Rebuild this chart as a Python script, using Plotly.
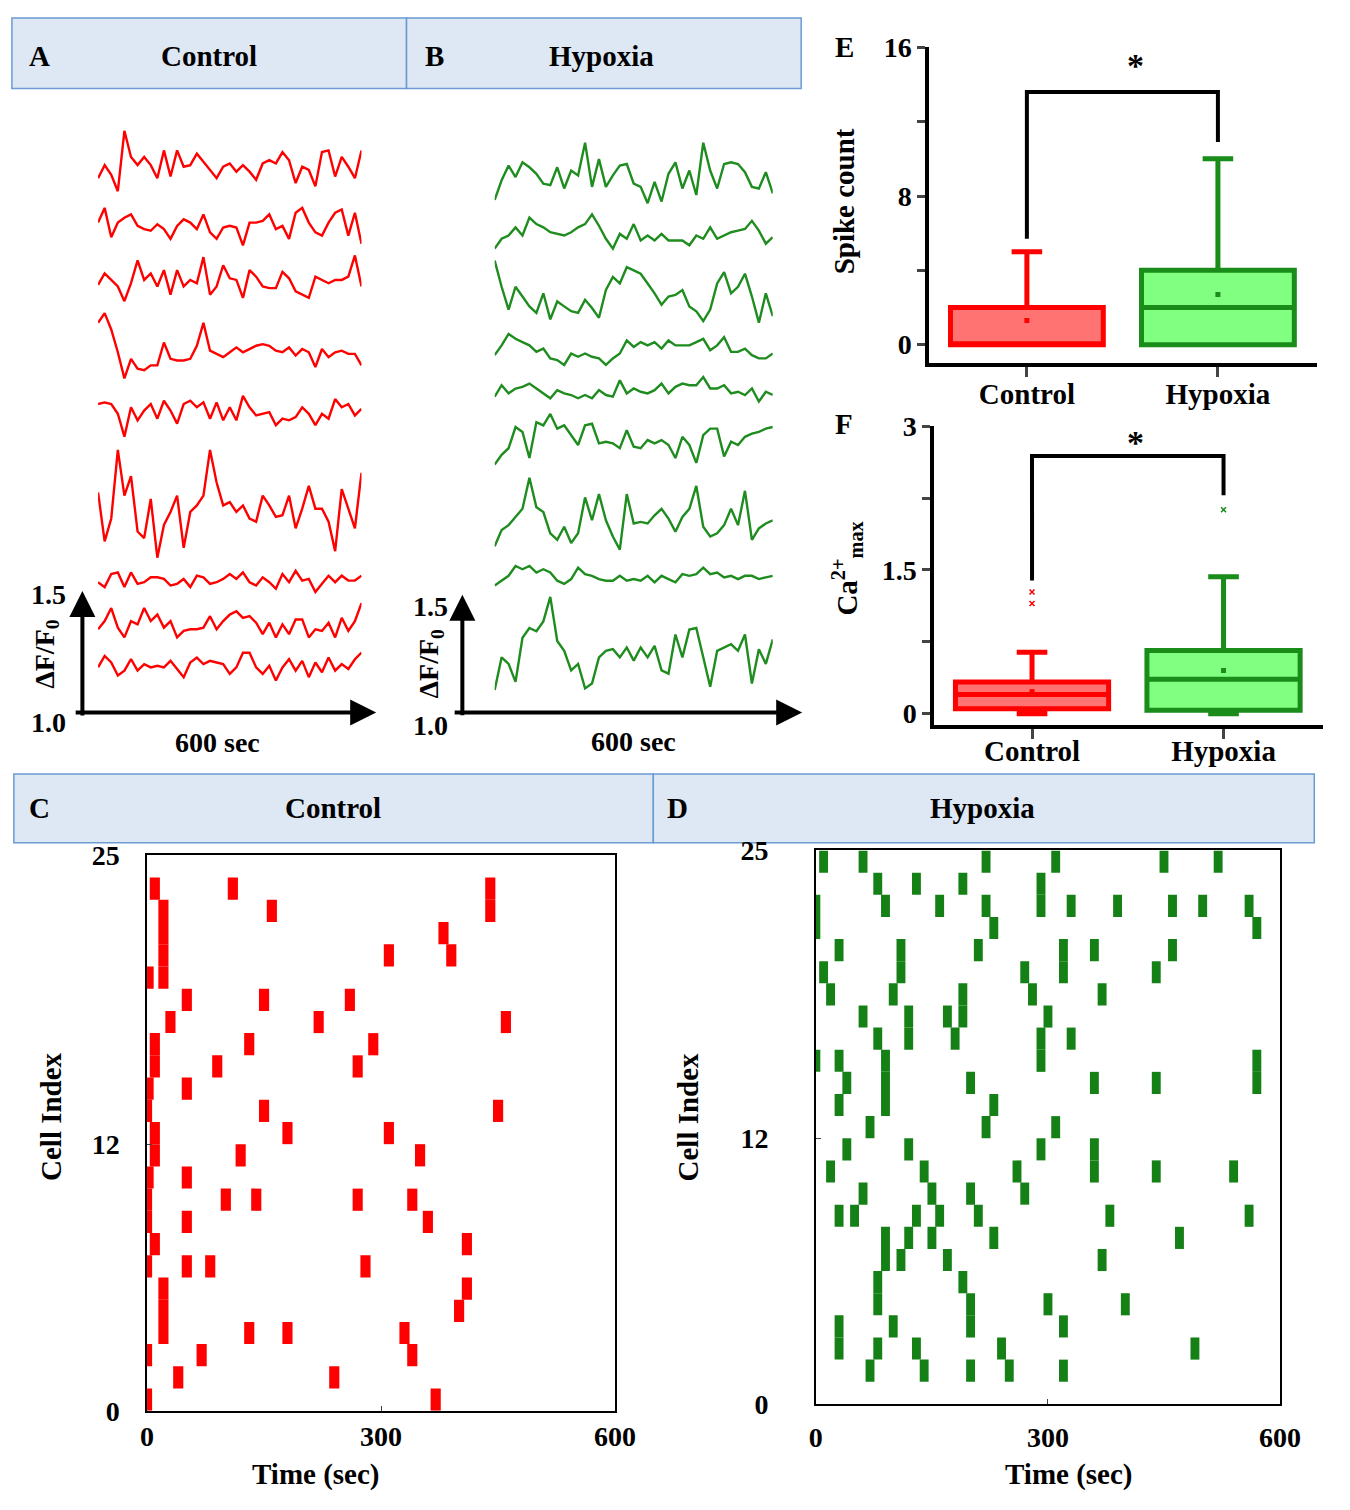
import numpy as np
import plotly.graph_objects as go

W, H = 1350, 1510
SERIF = "Liberation Serif"
RED = "#ff0000"
GREEN_TR = "#1f8c1f"
GREEN_D = "#158015"

# ---- A / B : calcium traces, sampled every 15 s over 600 s
t_trace = list(range(0, 601, 15))
# amplitudes in scale-bar units (366 units = 0.5 dF/F0), measured up from each trace's floor
UNIT = 0.5 / 366

ctrl_1 = [55,95,65,15,200,120,95,120,95,55,140,60,140,90,95,130,105,80,55,90,100,75,95,75,50,100,110,100,135,110,40,90,80,30,135,140,60,120,90,55,140]
ctrl_2 = [80,125,35,80,95,105,70,60,55,75,60,30,70,90,80,60,105,50,30,65,70,65,10,80,80,85,105,60,70,30,110,125,80,50,40,80,110,120,40,110,15]
ctrl_3 = [65,100,80,60,15,70,140,80,100,60,110,35,110,60,80,70,150,35,60,125,85,80,25,110,90,60,55,55,105,85,45,35,25,90,80,70,80,80,90,155,60]
ctrl_4 = [190,220,170,100,20,80,50,45,60,60,130,80,75,75,80,120,190,105,95,85,100,115,100,110,120,125,120,105,100,115,90,110,100,55,110,85,100,105,95,95,60]
ctrl_5 = [110,115,110,80,10,100,60,90,110,65,120,90,50,110,120,100,115,65,115,60,100,60,135,100,75,80,85,45,65,60,70,100,80,45,80,65,125,100,110,75,95]
ctrl_6 = [220,70,140,350,210,270,100,80,200,20,120,160,210,50,160,180,210,350,250,180,190,160,180,140,130,210,180,145,150,210,110,170,240,170,170,130,40,230,170,110,280]
ctrl_7 = [40,25,65,70,25,70,35,40,55,55,50,30,35,50,25,60,55,35,40,50,65,50,70,40,30,55,40,20,65,40,75,45,50,10,35,60,40,60,45,45,60]
ctrl_8 = [35,60,100,40,10,60,50,100,60,80,40,60,10,30,35,35,40,75,35,60,80,90,70,75,55,20,55,10,50,20,65,65,10,35,30,55,10,70,30,60,115]
ctrl_9 = [50,85,65,25,40,75,40,60,50,55,50,70,45,20,65,80,60,70,65,60,30,50,95,95,50,30,55,10,50,75,40,70,20,65,35,80,40,60,45,75,95]
ctrl_base = [3.16, 2.94, 2.70, 2.37, 2.14, 1.62, 1.49, 1.30, 1.12]

hyp_1 = [25,85,130,95,140,125,105,75,70,125,60,115,100,200,65,150,65,100,130,135,75,65,15,80,20,105,140,60,115,40,200,115,60,135,140,135,110,65,60,110,45]
hyp_2 = [15,45,55,80,55,110,90,80,65,60,55,65,80,90,120,85,45,15,60,45,90,40,55,40,60,40,40,40,25,55,45,80,45,55,65,70,75,100,70,30,50]
hyp_3 = [205,125,55,125,95,65,45,105,25,80,65,50,45,85,60,30,115,155,135,185,175,165,135,105,70,95,100,115,65,50,20,55,135,170,105,125,165,95,15,105,35]
hyp_4 = [40,70,105,90,80,70,50,60,30,25,10,45,35,45,35,30,10,30,45,85,65,80,70,80,60,85,70,70,70,80,90,55,70,95,50,50,60,40,30,30,45]
hyp_5 = [30,65,40,55,60,70,55,40,25,50,40,35,25,35,25,50,35,30,80,40,55,45,40,50,70,40,60,70,65,65,90,55,55,65,40,45,35,55,15,45,35]
hyp_6 = [5,35,55,120,105,25,135,125,160,115,125,95,65,125,130,70,75,70,55,110,60,55,80,70,80,65,25,90,65,10,95,115,115,30,75,65,90,100,105,115,120]
hyp_7 = [40,90,105,130,155,250,160,145,80,60,100,50,80,190,120,200,120,70,30,200,110,115,110,135,155,125,85,130,155,225,100,70,80,105,155,105,210,60,95,110,120]
hyp_8 = [15,30,45,75,65,75,55,65,55,30,20,35,70,50,45,35,30,30,45,30,35,30,45,25,45,35,25,50,45,50,70,50,55,40,45,35,45,45,35,40,45]
hyp_9 = [10,110,90,35,170,200,190,220,295,160,130,70,90,15,30,110,130,135,110,140,100,140,110,145,70,60,180,110,195,200,110,20,130,140,150,130,180,30,135,90,165]
hyp_base = [3.11, 2.92, 2.61, 2.44, 2.28, 2.03, 1.64, 1.51, 1.08]

# ---- E / F : box statistics
groups = ["Control", "Hypoxia"]
spike_q1 = [0, 0]
spike_med = [0, 2]
spike_q3 = [2, 4]
spike_lo = [0, 0]
spike_hi = [5, 10]
spike_mean = [1.3, 2.7]
spike_sig = [5.7, 13.6, 13.6, 10.9]

ca_q1 = [0.05, 0.035]
ca_med = [0.2, 0.36]
ca_q3 = [0.33, 0.66]
ca_lo = [0, 0]
ca_hi = [0.64, 1.43]
ca_mean = [0.23, 0.45]
ca_out_x = ["Control", "Control", "Hypoxia"]
ca_out_y = [1.27, 1.15, 2.13]
ca_sig = [1.39, 2.69, 2.69, 2.28]

# ---- C / D : raster spike times (s), one list per cell, bottom row first
ctrl_rows = [
    [0, 370], [40, 240], [0, 70, 340], [21, 131, 180, 330], [21, 400], [21, 410],
    [0, 51, 81, 280], [10, 410], [0, 51, 360], [0, 101, 140, 270, 340], [2, 51],
    [10, 120, 350], [10, 180, 310], [0, 150, 450], [2, 51], [10, 90, 270],
    [10, 131, 290], [30, 220, 460], [51, 150, 260], [2, 21], [21, 310, 390],
    [21, 380], [21, 160, 440], [10, 110, 440],
]
hyp_rows = [
    [70, 140, 200, 250, 320], [30, 80, 130, 240, 490], [30, 100, 200, 320],
    [80, 200, 300, 400], [80, 190], [90, 110, 170, 370], [90, 120, 150, 230, 470],
    [30, 50, 130, 160, 210, 380, 560], [61, 150, 200, 270],
    [19, 140, 260, 360, 440, 540], [40, 120, 291, 360], [70, 220, 310],
    [30, 90, 230], [40, 90, 200, 360, 440, 570], [0, 30, 90, 291, 570],
    [80, 120, 180, 291, 330], [61, 120, 170, 190, 300], [19, 100, 190, 280, 370],
    [10, 110, 270, 320, 440], [30, 110, 210, 320, 360, 461], [0, 230, 570],
    [0, 90, 160, 220, 291, 330, 390, 461, 500, 560], [80, 130, 190, 291],
    [10, 61, 220, 310, 450, 520],
]

fig = go.Figure()


def px(x0, x1):
    return [x0 / W, x1 / W]


def py(y_top, y_bot):
    return [1 - y_bot / H, 1 - y_top / H]


def txt(s, x, y, size=29, angle=0, color="black"):
    fig.add_annotation(text=s, x=x / W, y=1 - y / H, xref="paper", yref="paper",
                       showarrow=False, textangle=angle, xanchor="center", yanchor="middle",
                       font=dict(family=SERIF, size=size, color=color, weight="bold"))


def arrow(x0, y0, x1, y1):
    fig.add_annotation(x=x1 / W, y=1 - y1 / H, xref="paper", yref="paper", text="",
                       showarrow=True, ax=x0 - x1, ay=y0 - y1, axref="pixel", ayref="pixel",
                       arrowhead=2, arrowsize=1.3, arrowwidth=4, arrowcolor="black")


def header(x0, x1, y0, y1):
    fig.add_shape(type="rect", xref="paper", yref="paper", x0=x0 / W, x1=x1 / W,
                  y0=1 - y1 / H, y1=1 - y0 / H, fillcolor="#dde8f4",
                  line=dict(color="#6b9bd2", width=1.5), layer="below")


# headers
header(5, 408, 3, 75)
header(408, 811, 3, 75)
header(7, 660, 775, 845)
header(660, 1335, 775, 845)
txt("A", 33, 42)
txt("Control", 206, 42)
txt("B", 437, 42)
txt("Hypoxia", 607, 42)
txt("C", 33, 810)
txt("Control", 333, 810)
txt("D", 685, 810)
txt("Hypoxia", 996, 810)

# traces
ctrl_traces = [ctrl_1, ctrl_2, ctrl_3, ctrl_4, ctrl_5, ctrl_6, ctrl_7, ctrl_8, ctrl_9]
hyp_traces = [hyp_1, hyp_2, hyp_3, hyp_4, hyp_5, hyp_6, hyp_7, hyp_8, hyp_9]
for vals, b in zip(ctrl_traces, ctrl_base):
    fig.add_trace(go.Scatter(x=t_trace, y=b + np.array(vals) * UNIT, mode="lines",
                             line=dict(color=RED, width=2.4), xaxis="x", yaxis="y"))
for vals, b in zip(hyp_traces, hyp_base):
    fig.add_trace(go.Scatter(x=t_trace, y=b + np.array(vals) * UNIT, mode="lines",
                             line=dict(color=GREEN_TR, width=2.4), xaxis="x2", yaxis="y2"))

# scale bars
arrow(77, 714, 77, 588)
arrow(75, 712, 377, 712)
arrow(465, 714, 465, 592)
arrow(463, 712, 812, 712)
txt("1.5", 42, 592, 28)
txt("1.0", 42, 722, 28)
txt("ΔF/F<sub>0</sub>", 40, 652, 28, -90)
txt("600 sec", 215, 743, 28)
txt("1.5", 432, 604, 28)
txt("1.0", 432, 725, 28)
txt("ΔF/F<sub>0</sub>", 432, 662, 28, -90)
txt("600 sec", 640, 742, 28)

# box plots
CTRL_FILL, HYP_FILL = "#ff7373", "#80ff80"
CTRL_LINE, HYP_LINE = "#ff0000", "#1a8c1a"
for i, (fill, line) in enumerate([(CTRL_FILL, CTRL_LINE), (HYP_FILL, HYP_LINE)]):
    fig.add_trace(go.Box(x=[groups[i]], q1=[spike_q1[i]], median=[spike_med[i]], q3=[spike_q3[i]],
                         lowerfence=[spike_lo[i]], upperfence=[spike_hi[i]], fillcolor=fill,
                         line=dict(color=line, width=5), whiskerwidth=0.2, width=0.8,
                         xaxis="x3", yaxis="y3"))
    fig.add_trace(go.Box(x=[groups[i]], q1=[ca_q1[i]], median=[ca_med[i]], q3=[ca_q3[i]],
                         lowerfence=[ca_lo[i]], upperfence=[ca_hi[i]], fillcolor=fill,
                         line=dict(color=line, width=5), whiskerwidth=0.2, width=0.8,
                         xaxis="x4", yaxis="y4"))
    fig.add_trace(go.Scatter(x=[groups[i]], y=[spike_mean[i]], mode="markers",
                             marker=dict(color=line, size=5, symbol="square"), xaxis="x3", yaxis="y3"))
    fig.add_trace(go.Scatter(x=[groups[i]], y=[ca_mean[i]], mode="markers",
                             marker=dict(color=line, size=5, symbol="square"), xaxis="x4", yaxis="y4"))

fig.add_trace(go.Scatter(x=ca_out_x, y=ca_out_y, mode="markers",
                         marker=dict(color=[CTRL_LINE, CTRL_LINE, HYP_LINE], size=5, symbol="x-thin",
                                     line=dict(width=1.5, color=[CTRL_LINE, CTRL_LINE, HYP_LINE])),
                         xaxis="x4", yaxis="y4"))
bracket_x = ["Control", "Control", "Hypoxia", "Hypoxia"]
fig.add_trace(go.Scatter(x=bracket_x, y=spike_sig, mode="lines", line=dict(color="black", width=4),
                         xaxis="x3", yaxis="y3"))
fig.add_trace(go.Scatter(x=bracket_x, y=ca_sig, mode="lines", line=dict(color="black", width=4),
                         xaxis="x4", yaxis="y4"))
txt("*", 1152, 52, 34)
txt("*", 1152, 436, 34)
txt("E", 855, 33)
txt("F", 855, 418)
txt("Spike count", 855, 190, 29, -90)
txt("Ca<sup>2+</sup><sub>max</sub>", 858, 565, 29, -90)


# rasters
def raster(rows, first, color, width, xa, ya):
    xs, bases = [], []
    for i, times in enumerate(rows):
        for t in times:
            xs.append(t)
            bases.append(first + i)
    fig.add_trace(go.Bar(x=xs, y=[1] * len(xs), base=bases, width=width,
                         marker=dict(color=color, line=dict(width=0)), xaxis=xa, yaxis=ya))


raster(ctrl_rows, 0, RED, 13, "x5", "y5")
raster(hyp_rows, 1, GREEN_D, 11.5, "x6", "y6")
txt("Cell Index", 45, 1125, 29, -90)
txt("Time (sec)", 316, 1490, 29)
txt("Cell Index", 695, 1125, 29, -90)
txt("Time (sec)", 1085, 1490, 29)

tick_font = dict(family=SERIF, size=28, color="black", weight="bold")
hidden = dict(visible=False, showgrid=False, zeroline=False)
raster_x = dict(range=[0, 600], tickvals=[0, 300, 600], showline=True, mirror=True,
                linecolor="black", linewidth=1.5, ticks="inside", ticklen=5,
                showgrid=False, zeroline=False, tickfont=tick_font)
raster_y = dict(range=[0, 25], tickvals=[0, 12, 25], showline=True, mirror=True,
                linecolor="black", linewidth=1.5, ticks="inside", ticklen=5,
                showgrid=False, zeroline=False, tickfont=tick_font)
box_x = dict(type="category", categoryorder="array", categoryarray=groups, showline=True,
             linecolor="black", linewidth=4, ticks="outside", ticklen=10, tickwidth=3,
             showgrid=False, zeroline=False, tickfont=dict(family=SERIF, size=29, color="black", weight="bold"))
box_y = dict(showline=True, linecolor="black", linewidth=4, ticks="outside", ticklen=8,
             tickwidth=3, showgrid=False, zeroline=False, tickfont=tick_font)

fig.update_layout(
    width=W, height=H, margin=dict(l=0, r=0, t=0, b=0),
    paper_bgcolor="white", plot_bgcolor="white", showlegend=False, barmode="overlay",
    xaxis=dict(domain=px(93, 362), range=[0, 600], anchor="y", **hidden),
    yaxis=dict(domain=py(100, 712), range=[1.0, 3.508], anchor="x", **hidden),
    xaxis2=dict(domain=px(498, 782), range=[0, 600], anchor="y2", **hidden),
    yaxis2=dict(domain=py(100, 712), range=[1.0, 3.508], anchor="x2", **hidden),
    xaxis3=dict(domain=px(942, 1338), range=[-0.51, 1.52], anchor="y3", ticklabelstandoff=-8, **box_x),
    yaxis3=dict(domain=py(33, 355), range=[-0.97, 16], tickvals=[0, 4, 8, 12, 16],
                ticktext=["0", "", "8", "", "16"], anchor="x3", **box_y),
    xaxis4=dict(domain=px(947, 1344), range=[-0.51, 1.52], anchor="y4", ticklabelstandoff=-13, **box_x),
    yaxis4=dict(domain=py(420, 725), range=[-0.12, 3], tickvals=[0, 0.75, 1.5, 2.25, 3],
                ticktext=["0", "", "1.5", "", "3"], anchor="x4", **box_y),
    xaxis5=dict(domain=px(143, 621), anchor="y5", **raster_x),
    yaxis5=dict(domain=py(858, 1425), ticklabelstandoff=20, anchor="x5", **raster_y),
    xaxis6=dict(domain=px(826, 1300), anchor="y6", ticklabelstandoff=8, **raster_x),
    yaxis6=dict(domain=py(853, 1418), ticklabelstandoff=40, anchor="x6", **raster_y),
)

fig.write_html("out.html", config={"displayModeBar": False},
               post_script="document.body.style.margin='0';document.body.style.overflow='hidden';")
